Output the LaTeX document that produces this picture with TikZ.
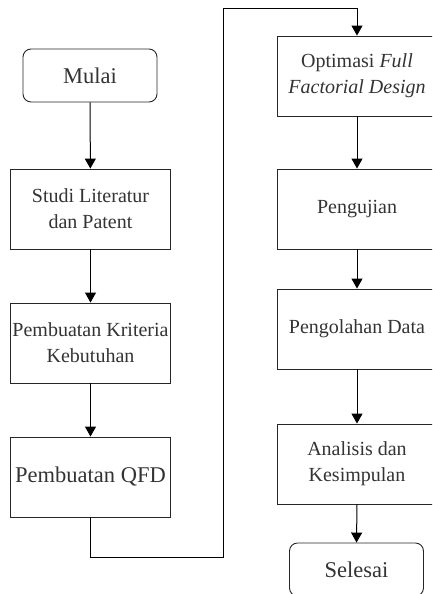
\documentclass[tikz,border=0pt]{standalone}
\usepackage{fontspec}
\setmainfont{Liberation Serif}
\usetikzlibrary{arrows.meta}
\begin{document}
\begin{tikzpicture}[x=1pt,y=-1pt,
  proc/.style={draw=black!85, line width=0.9pt, minimum width=160pt, minimum height=80pt,
    align=center, text=black!80, font=\fontsize{20}{26}\selectfont, inner sep=0pt},
  term/.style={draw=black!85, line width=0.9pt, rounded corners=8pt, minimum width=134pt, minimum height=53pt,
    align=center, text=black!80, font=\fontsize{22.5}{27}\selectfont, inner sep=0pt},
  flow/.style={draw=black, line width=1pt, -{Triangle[width=11pt,length=10pt]}}]
\useasboundingbox (0,0) rectangle (432,594);
\clip (0,0) rectangle (432,594);
% left column
\node[term] (mulai) at (90,75.5) {Mulai};
\node[proc] (studi) at (90.5,209) {Studi Literatur\\dan Patent};
\node[proc] (krit) at (90.5,343) {Pembuatan Kriteria\\Kebutuhan};
\node[proc, font=\fontsize{22.5}{27}\selectfont] (qfd) at (90.5,477) {Pembuatan QFD};
% right column
\node[proc] (opt) at (357,76) {Optimasi \textit{Full}\\\textit{Factorial Design}};
\node[proc] (uji) at (357,209) {Pengujian};
\node[proc] (olah) at (357,329) {Pengolahan Data};
\node[proc] (anal) at (357,464) {Analisis dan\\Kesimpulan};
\node[term] (sel) at (356.5,569.5) {Selesai};
% connectors
\coordinate (c1) at (90.5,557);
\coordinate (c2) at (223,557);
\coordinate (c3) at (223,9);
\coordinate (c4) at (357,9);
\draw[flow] (mulai) -- (studi);
\draw[flow] (studi) -- (krit);
\draw[flow] (krit) -- (qfd);
\draw[flow] (qfd.south) -- (c1) -- (c2) -- (c3) -- (c4) -- (opt.north);
\draw[flow] (opt) -- (uji);
\draw[flow] (uji) -- (olah);
\draw[flow] (olah) -- (anal);
\draw[flow] (anal.south) -- (sel.north);
\end{tikzpicture}
\end{document}
